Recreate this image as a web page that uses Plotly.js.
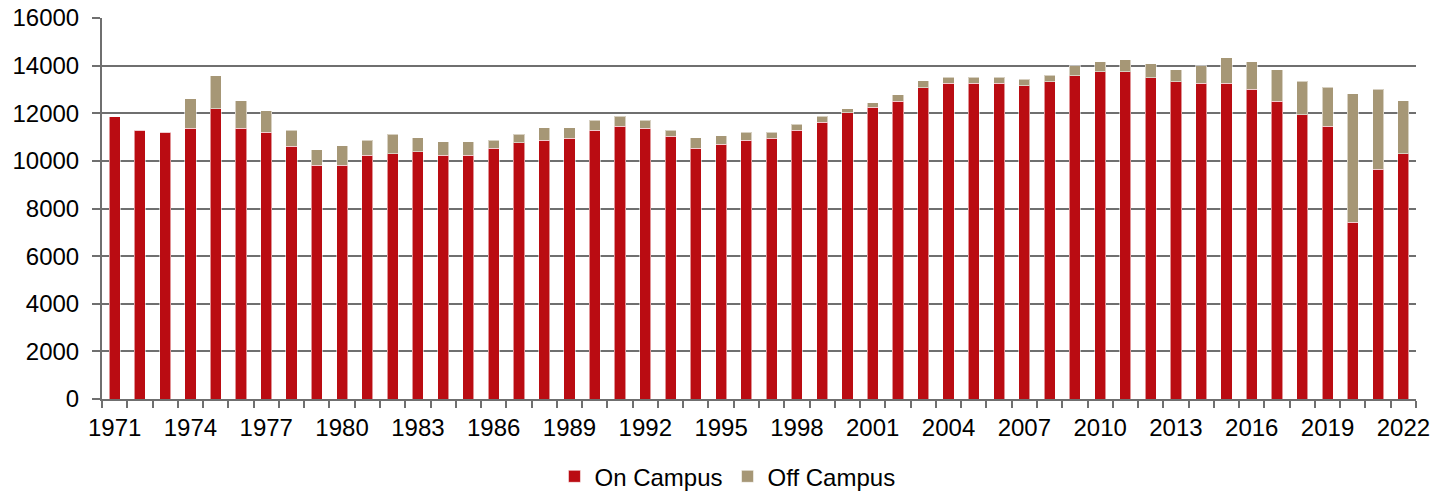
<!DOCTYPE html>
<html>
<head>
<meta charset="utf-8">
<script src="https://cdn.plot.ly/plotly-3.0.1.min.js"></script>
<style>
  html, body { margin: 0; padding: 0; background: #ffffff; }
  #chart { width: 1450px; height: 494px; }
</style>
</head>
<body>
<div id="chart"></div>
<script>
const years = [1971,1972,1973,1974,1975,1976,1977,1978,1979,1980,
  1981,1982,1983,1984,1985,1986,1987,1988,1989,1990,
  1991,1992,1993,1994,1995,1996,1997,1998,1999,2000,
  2001,2002,2003,2004,2005,2006,2007,2008,2009,2010,
  2011,2012,2013,2014,2015,2016,2017,2018,2019,2020,
  2021,2022];

const onCampus = [11850,11290,11210,11360,12190,11360,11200,10620,9810,9810,
  10230,10300,10390,10230,10230,10520,10770,10860,10950,11280,
  11450,11360,11030,10520,10700,10860,10950,11280,11620,12020,
  12260,12510,13080,13250,13250,13250,13160,13330,13580,13750,
  13750,13500,13330,13250,13250,13000,12510,11940,11450,7430,
  9650,10300];

const offCampus = [0,0,0,1240,1390,1160,900,670,660,830,
  640,820,580,570,570,350,350,530,440,420,
  415,340,260,450,355,350,260,250,245,166,
  177,262,278,263,263,263,270,267,420,404,
  488,570,503,750,1072,1154,1323,1405,1643,5398,
  3360,2220];

const tickYears = [1971,1974,1977,1980,1983,1986,1989,1992,1995,1998,2001,2004,2007,2010,2013,2016,2019,2022];

const seriesNames = ['On Campus', 'Off Campus'];
const colors = ['#BA0C12', '#A69776'];

const traces = [onCampus, offCampus].map((vals, i) => ({
  type: 'bar',
  name: seriesNames[i],
  x: years,
  y: vals,
  width: 0.44,
  marker: { color: colors[i], line: { color: 'rgba(255,255,255,0.55)', width: 1 } },
  hoverinfo: 'x+y+name'
}));

const gridColor = '#6f6f6f';

const layout = {
  width: 1450,
  height: 494,
  barmode: 'stack',
  paper_bgcolor: '#ffffff',
  plot_bgcolor: '#ffffff',
  margin: { l: 102, r: 34, t: 18, b: 95, autoexpand: false },
  font: { family: 'Liberation Sans, Arial, sans-serif', size: 24, color: '#000000' },
  xaxis: {
    type: 'linear',
    range: [1970.5, 2022.5],
    tickmode: 'array',
    tickvals: tickYears,
    ticktext: tickYears.map(String),
    ticks: '',
    showgrid: false,
    zeroline: false,
    showline: true,
    linecolor: gridColor,
    linewidth: 2,
    tickfont: { size: 24, color: '#000000' },
    ticklabelstandoff: 6,
    minor: { tick0: 1970.5, dtick: 1, ticks: 'outside', ticklen: 7, tickwidth: 2, tickcolor: gridColor, showgrid: false }
  },
  yaxis: {
    range: [0, 16000],
    dtick: 2000,
    tick0: 0,
    showgrid: true,
    gridcolor: gridColor,
    gridwidth: 2,
    zeroline: false,
    showline: true,
    linecolor: gridColor,
    linewidth: 2,
    ticks: 'outside',
    ticklen: 8,
    tickwidth: 2,
    tickcolor: gridColor,
    tickformat: 'd',
    ticklabelstandoff: 8,
    tickfont: { size: 24, color: '#000000' }
  },
  legend: {
    orientation: 'h',
    x: 0.476,
    xanchor: 'center',
    y: -0.204,
    yanchor: 'middle',
    font: { size: 24, color: '#000000' },
    traceorder: 'normal',
    itemclick: false
  },
  showlegend: true
};

Plotly.newPlot('chart', traces, layout, { displayModeBar: false, staticPlot: true });
</script>
</body>
</html>
